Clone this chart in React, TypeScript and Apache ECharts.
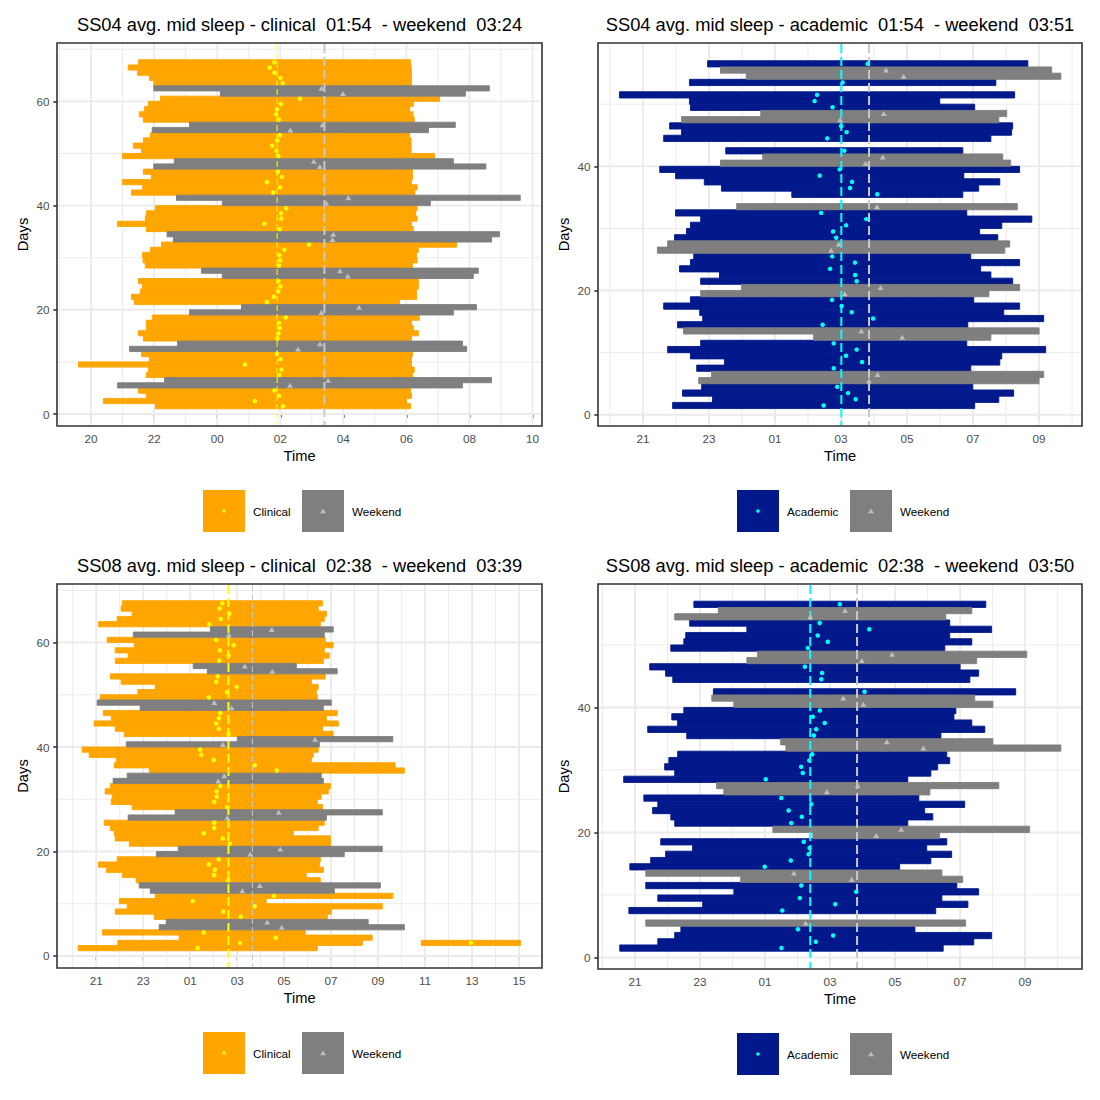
import React, { useEffect, useRef } from "react";
import * as echarts from "echarts";

// Each episode: [day, start hour, end hour]; hours past the evening's midnight (values > 24 = next morning)
const ss04Clinical = [
  [1, 22.04, 30.13], [2, 20.39, 30.0], [3, 21.75, 30.16], [4, 21.5, 30.13],
  [7, 21.75, 30.19], [8, 21.82, 30.25], [9, 19.6, 30.16], [10, 21.85, 30.16], [11, 21.6, 30.19],
  [14, 21.66, 30.16], [15, 21.5, 30.38], [16, 21.75, 30.22], [17, 21.75, 30.16], [18, 21.94, 30.41],
  [21, 21.37, 29.78], [22, 21.28, 30.32], [23, 21.56, 30.32], [24, 21.63, 30.38], [25, 21.5, 30.38],
  [28, 21.72, 30.19], [29, 21.65, 30.34], [30, 21.63, 30.32], [31, 21.88, 30.38], [32, 22.23, 31.59],
  [35, 21.75, 30.22], [36, 20.84, 30.16], [37, 21.72, 30.34], [38, 21.75, 30.29], [39, 22.04, 30.34],
  [42, 21.28, 30.27], [43, 21.64, 30.34], [44, 20.99, 30.16], [45, 21.91, 30.19], [46, 21.66, 30.19],
  [49, 20.99, 30.89], [50, 21.6, 30.15], [51, 21.34, 30.15], [52, 21.66, 30.15], [53, 21.88, 30.1],
  [56, 21.66, 30.25], [57, 21.53, 30.21], [58, 21.69, 30.1], [59, 21.82, 30.22], [60, 22.2, 31.05],
  [63, 21.99, 30.16], [64, 21.85, 30.16], [65, 21.47, 30.16], [66, 21.18, 30.15], [67, 21.5, 30.13],
];
const ss04ClinWeekend = [
  [5, 20.84, 31.78], [6, 22.33, 32.7], [12, 21.22, 31.91], [13, 22.74, 31.78],
  [19, 23.12, 31.49], [20, 24.77, 32.22], [26, 24.16, 32.12], [27, 23.5, 32.28],
  [33, 22.61, 32.7], [34, 22.41, 32.95], [40, 24.16, 30.76], [41, 22.71, 33.61],
  [47, 21.99, 32.52], [48, 22.64, 31.49], [54, 21.94, 30.7], [55, 23.12, 31.55],
  [61, 24.1, 31.87], [62, 21.99, 32.63],
];
const ss04Academic = [
  [1, 21.9, 31.05], [2, 23.11, 31.78], [3, 22.2, 32.23], [4, 22.78, 30.99],
  [7, 22.63, 30.93], [8, 23.47, 31.81], [9, 22.44, 31.87], [10, 21.75, 33.2], [11, 22.75, 30.81],
  [14, 22.05, 30.84], [15, 22.81, 33.14], [16, 22.72, 31.93], [17, 21.63, 32.41], [18, 22.44, 31.02],
  [21, 22.75, 32.2], [22, 23.32, 31.54], [23, 22.11, 31.23], [24, 22.44, 32.41], [25, 22.54, 30.93],
  [28, 21.96, 31.75], [29, 22.32, 31.2], [30, 22.44, 31.87], [31, 22.75, 32.78], [32, 21.99, 30.81],
  [35, 25.51, 30.69], [36, 23.38, 31.17], [37, 22.86, 31.81], [38, 21.99, 30.72], [39, 21.51, 32.41],
  [42, 23.51, 30.69], [44, 21.63, 31.54], [45, 22.17, 32.17], [46, 21.81, 32.2],
  [49, 22.44, 31.05], [50, 22.41, 29.99], [51, 20.29, 32.26], [53, 22.41, 31.69], [56, 22.96, 32.66],
];
const ss04AcadWeekend = [
  [5, 22.69, 33.0], [6, 23.08, 33.14], [12, 26.17, 31.54], [13, 22.23, 33.0],
  [19, 22.75, 31.48], [20, 23.99, 32.41], [26, 21.44, 31.96], [27, 21.75, 32.11],
  [33, 23.84, 32.34], [40, 23.35, 32.14], [41, 24.63, 31.9], [47, 22.17, 31.78],
  [48, 24.57, 32.02], [54, 24.13, 33.66], [55, 23.35, 33.38],
];
const ss08Clinical = [
  [1, 20.23, 30.41], [2, 21.92, 32.33], [2, 34.84, 39.06], [3, 24.53, 32.75], [4, 21.26, 29.9],
  [7, 23.47, 30.84], [8, 21.81, 31.01], [9, 22.32, 33.18], [10, 21.98, 28.24], [11, 23.51, 33.63],
  [14, 22.7, 30.54], [15, 22.11, 29.94], [16, 21.43, 30.67], [17, 21.09, 30.5], [18, 21.89, 30.54],
  [21, 22.41, 30.97], [22, 21.81, 30.97], [23, 21.77, 29.39], [24, 21.6, 30.45], [25, 21.34, 30.71],
  [28, 22.53, 30.63], [29, 21.64, 30.41], [30, 21.68, 30.58], [31, 21.38, 30.88], [32, 21.6, 30.97],
  [35, 23.26, 34.12], [36, 21.77, 33.73], [37, 21.85, 30.16], [38, 20.7, 30.24], [39, 20.4, 30.45],
  [42, 22.19, 31.09], [43, 21.81, 30.63], [44, 20.91, 31.31], [45, 21.64, 30.8], [46, 21.3, 31.26],
  [49, 21.17, 30.41], [50, 22.77, 30.37], [51, 23.51, 30.45], [52, 22.06, 30.16], [53, 21.6, 30.75],
  [56, 21.81, 30.67], [57, 22.36, 30.92], [58, 21.81, 30.71], [59, 22.62, 31.09], [60, 21.47, 30.75],
  [63, 21.09, 30.54], [64, 21.89, 30.71], [65, 22.53, 30.8], [66, 22.06, 30.45], [67, 22.11, 30.63],
];
const ss08ClinWeekend = [
  [5, 23.68, 34.12], [6, 23.98, 32.58], [12, 23.3, 31.14], [13, 22.83, 33.1],
  [19, 23.56, 31.56], [20, 24.49, 33.18], [26, 22.36, 30.8], [27, 24.36, 33.18],
  [33, 21.72, 30.67], [34, 22.32, 30.58], [40, 22.28, 30.5], [41, 27.01, 33.63],
  [47, 22.87, 30.67], [48, 21.04, 31.01], [54, 25.73, 31.26], [55, 25.13, 29.52],
  [61, 22.58, 30.71], [62, 25.86, 31.09],
];
const ss08Academic = [
  [1, 20.53, 30.48], [2, 21.7, 31.42], [3, 22.22, 31.97], [4, 22.41, 29.61],
  [7, 20.81, 30.25], [8, 23.08, 31.24], [9, 21.7, 30.44], [10, 24.04, 31.57], [11, 21.33, 30.9],
  [14, 20.84, 29.14], [15, 21.48, 30.1], [16, 21.94, 30.74], [17, 22.77, 29.97], [18, 21.79, 30.59],
  [21, 22.22, 29.39], [22, 22.1, 30.16], [23, 21.54, 29.91], [24, 21.7, 31.14], [25, 21.27, 29.73],
  [28, 20.65, 29.39], [29, 22.22, 30.1], [30, 21.91, 30.31], [31, 22.04, 30.68], [32, 22.31, 30.59],
  [35, 22.59, 30.41], [36, 21.39, 31.76], [37, 22.31, 31.36], [38, 22.13, 30.81], [39, 22.5, 30.87],
  [42, 23.41, 32.71], [44, 22.16, 31.3], [45, 21.94, 31.57], [46, 21.45, 31.0],
  [49, 22.1, 30.53], [50, 22.5, 31.36], [51, 22.56, 30.68], [52, 24.44, 31.97], [53, 22.68, 30.68],
  [56, 22.81, 31.79],
];
const ss08AcadWeekend = [
  [5, 21.33, 31.17], [12, 24.25, 31.08], [13, 21.33, 30.44], [19, 26.47, 30.37],
  [20, 25.24, 33.14], [26, 23.73, 30.07], [27, 23.51, 32.19], [33, 25.64, 34.1],
  [34, 25.48, 32.01], [40, 24.04, 32.01], [41, 23.36, 31.45], [47, 24.44, 31.51],
  [48, 24.77, 33.05], [54, 22.22, 30.56], [55, 23.56, 31.36],
];

// average mid-sleep lines (hours): [first group, weekend]
const ss04ClinMeans = [25.9, 27.4];
const ss04AcadMeans = [27.01, 27.85];
const ss08ClinMeans = [26.63, 27.65];
const ss08AcadMeans = [26.39, 27.83];

const titles = [
  "SS04 avg. mid sleep - clinical  01:54  - weekend  03:24",
  "SS04 avg. mid sleep - academic  01:54  - weekend  03:51",
  "SS08 avg. mid sleep - clinical  02:38  - weekend  03:39",
  "SS08 avg. mid sleep - academic  02:38  - weekend  03:50",
];
const xTicks1 = [20, 22, 24, 26, 28, 30, 32, 34];
const xTicks2 = [21, 23, 25, 27, 29, 31, 33];
const xTicks3 = [21, 23, 25, 27, 29, 31, 33, 35, 37, 39];
const xTicks4 = [21, 23, 25, 27, 29, 31, 33];
const yTicksLong = [0, 20, 40, 60];
const yTicksShort = [0, 20, 40];
const legendClinical = ["Clinical", "Weekend"];
const legendAcademic = ["Academic", "Weekend"];

const FONT = "'Liberation Sans', Arial, Helvetica, sans-serif";

const KIND: Record<string, any> = {
  clin: { bar: "#FFA500", pt: "#FFFF00", sym: "circle", size: 4.5 },
  acad: { bar: "#02198B", pt: "#00FFFF", sym: "circle", size: 4.5 },
  wk: { bar: "#7F7F7F", pt: "#BEBEBE", sym: "triangle", size: 6 },
};

const panels = [
  {
    grid: { left: 57, top: 43, width: 485, height: 383 }, xr: [18.92, 34.3], yr: [-2.3, 71.2],
    xt: xTicks1, yt: yTicksLong, sets: [ss04Clinical, ss04ClinWeekend], kinds: ["clin", "wk"],
    means: ss04ClinMeans, meanW: [1, 2], title: titles[0], legend: legendClinical, legX: [203, 302],
  },
  {
    grid: { left: 598, top: 43, width: 484, height: 383 }, xr: [19.64, 34.3], yr: [-1.8, 59.85],
    xt: xTicks2, yt: yTicksShort, sets: [ss04Academic, ss04AcadWeekend], kinds: ["acad", "wk"],
    means: ss04AcadMeans, meanW: [2, 2], title: titles[1], legend: legendAcademic, legX: [737, 850],
  },
  {
    grid: { left: 57, top: 584, width: 485, height: 384 }, xr: [19.33, 39.98], yr: [-2.3, 71.2],
    xt: xTicks3, yt: yTicksLong, sets: [ss08Clinical, ss08ClinWeekend], kinds: ["clin", "wk"],
    means: ss08ClinMeans, meanW: [2, 1], title: titles[2], legend: legendClinical, legX: [203, 302],
  },
  {
    grid: { left: 598, top: 584, width: 484, height: 385 }, xr: [19.86, 34.75], yr: [-1.85, 59.75],
    xt: xTicks4, yt: yTicksShort, sets: [ss08Academic, ss08AcadWeekend], kinds: ["acad", "wk"],
    means: ss08AcadMeans, meanW: [2, 2], title: titles[3], legend: legendAcademic, legX: [737, 850],
  },
];

function minors(ticks: number[], r: number[]) {
  const step = ticks[1] - ticks[0];
  const c = [ticks[0] - step / 2, ...ticks.map((t) => t + step / 2)];
  return c.filter((v) => v > r[0] && v < r[1]);
}

const hourFmt = (v: number) => String(((Math.round(v) % 24) + 24) % 24).padStart(2, "0");

function buildOption() {
  const series: any[] = [];
  const graphics: any[] = [];
  panels.forEach((p, i) => {
    const gridData: number[][] = [];
    p.xt.forEach((v) => gridData.push([v, 0, 1]));
    minors(p.xt, p.xr).forEach((v) => gridData.push([v, 0, 0]));
    p.yt.forEach((v) => gridData.push([v, 1, 1]));
    minors(p.yt, p.yr).forEach((v) => gridData.push([v, 1, 0]));
    series.push({
      type: "custom", xAxisIndex: i, yAxisIndex: i, z: 1, silent: true,
      data: gridData,
      renderItem: (params: any, api: any) => {
        const cs = params.coordSys;
        const v = api.value(0), o = api.value(1), m = api.value(2);
        const lw = m ? 1.9 : 0.95;
        if (o === 0) {
          const x = api.coord([v, p.yr[0]])[0];
          return { type: "line", shape: { x1: x, y1: cs.y + 1, x2: x, y2: cs.y + cs.height - 1 }, style: { stroke: "#EBEBEB", lineWidth: lw } };
        }
        const y = api.coord([p.xr[0], v])[1];
        return { type: "line", shape: { x1: cs.x + 1, y1: y, x2: cs.x + cs.width - 1, y2: y }, style: { stroke: "#EBEBEB", lineWidth: lw } };
      },
    });
    p.sets.forEach((set, k) => {
      const color = KIND[p.kinds[k]].bar;
      series.push({
        type: "custom", xAxisIndex: i, yAxisIndex: i, z: 2, silent: true,
        encode: { x: [0, 1], y: 2 },
        data: set.map(([d, s, e]) => [s, e, d]),
        renderItem: (params: any, api: any) => {
          const s = api.value(0), e = api.value(1), d = api.value(2);
          const a = api.coord([s, d + 1]);
          const b = api.coord([e, d]);
          return { type: "rect", shape: { x: a[0], y: a[1], width: b[0] - a[0], height: b[1] - a[1] }, style: { fill: color, stroke: color, lineWidth: 0.9 } };
        },
      });
    });
    const meanColors = [KIND[p.kinds[0]].pt === "#FFFF00" ? "#FFFF00" : "#00FFFF", "#C8C8C8"];
    series.push({
      type: "custom", xAxisIndex: i, yAxisIndex: i, z: 3, silent: true,
      data: p.means.map((m, k) => [m, k]),
      renderItem: (params: any, api: any) => {
        const cs = params.coordSys;
        const k = params.dataIndex;
        const x = api.coord([api.value(0), p.yr[0]])[0];
        const w = p.meanW[k];
        return {
          type: "line", shape: { x1: x, y1: cs.y + 1, x2: x, y2: cs.y + cs.height - 1 },
          style: { stroke: meanColors[k], lineWidth: w, lineDash: w > 1.5 ? [9, 4] : [6, 3] },
        };
      },
    });
    p.sets.forEach((set, k) => {
      const kind = KIND[p.kinds[k]];
      series.push({
        type: "scatter", xAxisIndex: i, yAxisIndex: i, z: 4, silent: true,
        symbol: kind.sym, symbolSize: kind.sym === "triangle" ? [6, 5] : kind.size,
        itemStyle: { color: kind.pt, opacity: 1 },
        data: set.map(([d, s, e]) => [(s + e) / 2, d + 0.5]),
      });
    });

    const g = p.grid;
    const cx = g.left + g.width / 2;
    const bottom = g.top + g.height;
    graphics.push({ type: "text", x: cx, y: g.top - 18.7, style: { text: p.title, fontSize: 18.3, fontFamily: FONT, fill: "#000", align: "center", verticalAlign: "middle" } });
    graphics.push({ type: "text", x: cx, y: bottom + 29.5, style: { text: "Time", fontSize: 14.7, fontFamily: FONT, fill: "#000", align: "center", verticalAlign: "middle" } });
    graphics.push({ type: "text", x: g.left - 34.5, y: g.top + g.height / 2, rotation: Math.PI / 2, style: { text: "Days", fontSize: 14.7, fontFamily: FONT, fill: "#000", align: "center", verticalAlign: "middle" } });
    const lt = bottom + 64;
    p.kinds.forEach((kn, k) => {
      const kind = KIND[kn];
      const x = p.legX[k];
      graphics.push({ type: "rect", shape: { x, y: lt, width: 42, height: 42 }, style: { fill: kind.bar } });
      if (kind.sym === "circle") {
        graphics.push({ type: "circle", shape: { cx: x + 21, cy: lt + 21, r: 1.8 }, style: { fill: kind.pt } });
      } else {
        graphics.push({ type: "polygon", shape: { points: [[x + 21, lt + 18.5], [x + 24, lt + 23.3], [x + 18, lt + 23.3]] }, style: { fill: kind.pt } });
      }
      graphics.push({ type: "text", x: x + 50, y: lt + 21.5, style: { text: p.legend[k], fontSize: 11.7, fontFamily: FONT, fill: "#000", align: "left", verticalAlign: "middle" } });
    });
  });

  return {
    animation: false,
    backgroundColor: "#FFFFFF",
    textStyle: { fontFamily: FONT },
    grid: panels.map((p) => ({
      ...p.grid, show: true, borderColor: "#333333", borderWidth: 1.6, backgroundColor: "#FFFFFF",
      containLabel: false, outerBoundsMode: "none",
    })),
    xAxis: panels.map((p, i) => ({
      type: "value", gridIndex: i, min: p.xr[0], max: p.xr[1],
      axisLine: { show: false }, splitLine: { show: false },
      axisTick: { show: true, length: 3.7, lineStyle: { color: "#333333", width: 1.6 }, customValues: p.xt },
      axisLabel: { customValues: p.xt, formatter: hourFmt, margin: 6, color: "#4D4D4D", fontSize: 11.7, fontFamily: FONT },
    })),
    yAxis: panels.map((p, i) => ({
      type: "value", gridIndex: i, min: p.yr[0], max: p.yr[1],
      axisLine: { show: false }, splitLine: { show: false },
      axisTick: { show: true, length: 3.7, lineStyle: { color: "#333333", width: 1.6 }, customValues: p.yt },
      axisLabel: { customValues: p.yt, margin: 7.5, color: "#4D4D4D", fontSize: 11.7, fontFamily: FONT },
    })),
    series,
    graphic: { elements: graphics },
  };
}

export default function App() {
  const ref = useRef<HTMLDivElement>(null);
  useEffect(() => {
    const chart = echarts.init(ref.current!, undefined, { renderer: "svg" });
    chart.setOption(buildOption() as any);
    return () => chart.dispose();
  }, []);
  return (
    <div
      ref={ref}
      style={{ position: "fixed", left: 0, top: 0, width: 1100, height: 1100, background: "#fff" }}
    />
  );
}
